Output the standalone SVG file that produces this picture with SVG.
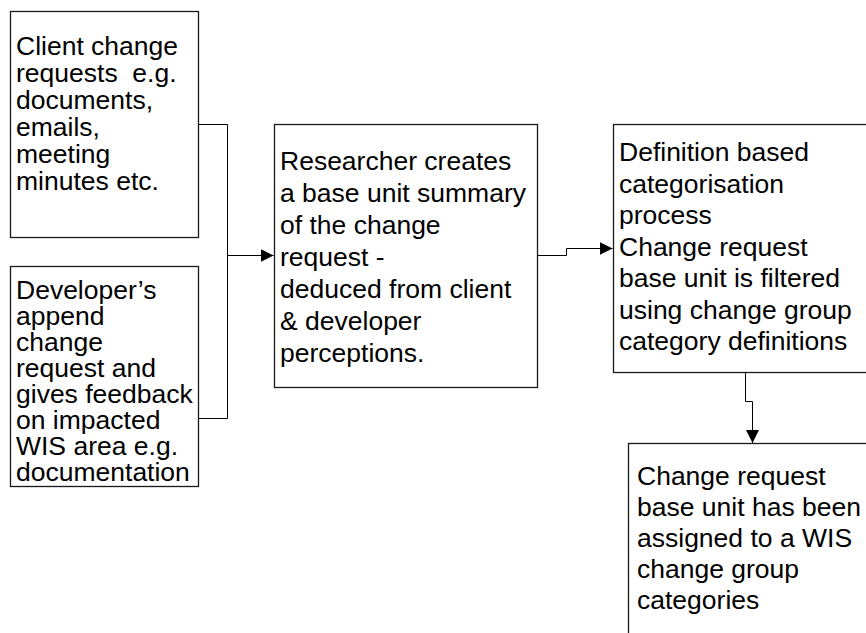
<svg xmlns="http://www.w3.org/2000/svg" width="866" height="633" viewBox="0 0 866 633">
  <style>
    .box { fill: #ffffff; stroke: #1a1a1a; stroke-width: 1.3; }
    .lbl { font-family: "Liberation Sans", Arial, sans-serif; font-size: 26.5px; fill: #000000; }
    .wire { fill: none; stroke: #000000; stroke-width: 1; }
  </style>
  <defs>
    <marker id="arrow" viewBox="0 0 13 13" refX="13" refY="6.5" markerWidth="13" markerHeight="13" markerUnits="userSpaceOnUse" orient="auto">
      <path d="M0,0 L13,6.5 L0,13 Z" fill="#000000"/>
    </marker>
  </defs>
  <rect width="866" height="633" fill="#ffffff"/>

  <g id="client-requests">
    <rect class="box" x="10.5" y="11.5" width="188" height="226"/>
    <text class="lbl" x="16" y="55">
      <tspan x="16" y="55">Client change</tspan>
      <tspan x="16" y="82" xml:space="preserve">requests  e.g.</tspan>
      <tspan x="16" y="109">documents,</tspan>
      <tspan x="16" y="136">emails,</tspan>
      <tspan x="16" y="163">meeting</tspan>
      <tspan x="16" y="190">minutes etc.</tspan>
    </text>
  </g>

  <g id="developer-feedback">
    <rect class="box" x="10.5" y="266.5" width="188" height="220"/>
    <text class="lbl" x="16" y="299">
      <tspan x="16" y="299">Developer’s</tspan>
      <tspan x="16" y="325">append</tspan>
      <tspan x="16" y="351">change</tspan>
      <tspan x="16" y="377">request and</tspan>
      <tspan x="16" y="403">gives feedback</tspan>
      <tspan x="16" y="429">on impacted</tspan>
      <tspan x="16" y="455">WIS area e.g.</tspan>
      <tspan x="16" y="481">documentation</tspan>
    </text>
  </g>

  <g id="base-unit-summary">
    <rect class="box" x="274.5" y="124.5" width="263" height="263"/>
    <text class="lbl" x="280" y="170">
      <tspan x="280" y="170">Researcher creates</tspan>
      <tspan x="280" y="202">a base unit summary</tspan>
      <tspan x="280" y="234">of the change</tspan>
      <tspan x="280" y="266">request -</tspan>
      <tspan x="280" y="298">deduced from client</tspan>
      <tspan x="280" y="330">&amp; developer</tspan>
      <tspan x="280" y="362">perceptions.</tspan>
    </text>
  </g>

  <g id="categorisation">
    <rect class="box" x="613.5" y="124.5" width="270" height="248"/>
    <text class="lbl" x="619" y="161">
      <tspan x="619" y="161">Definition based</tspan>
      <tspan x="619" y="192.5">categorisation</tspan>
      <tspan x="619" y="224">process</tspan>
      <tspan x="619" y="255.5">Change request</tspan>
      <tspan x="619" y="287">base unit is filtered</tspan>
      <tspan x="619" y="318.5">using change group</tspan>
      <tspan x="619" y="350">category definitions</tspan>
    </text>
  </g>

  <g id="assigned-group">
    <rect class="box" x="628.5" y="443.5" width="260" height="220"/>
    <text class="lbl" x="637" y="485">
      <tspan x="637" y="485">Change request</tspan>
      <tspan x="637" y="516">base unit has been</tspan>
      <tspan x="637" y="547">assigned to a WIS</tspan>
      <tspan x="637" y="578">change group</tspan>
      <tspan x="637" y="609">categories</tspan>
    </text>
  </g>

  <g id="connectors">
    <path class="wire" d="M198.5,124.5 H227.5 V418.5 H198.5"/>
    <path class="wire" d="M227.5,255.5 H273.5" marker-end="url(#arrow)"/>
    <path class="wire" d="M537.5,255.5 H566.5 V248.5 H612.5" marker-end="url(#arrow)"/>
    <path class="wire" d="M745.5,372.5 V401.5 H752.5 V443" marker-end="url(#arrow)"/>
  </g>
</svg>
